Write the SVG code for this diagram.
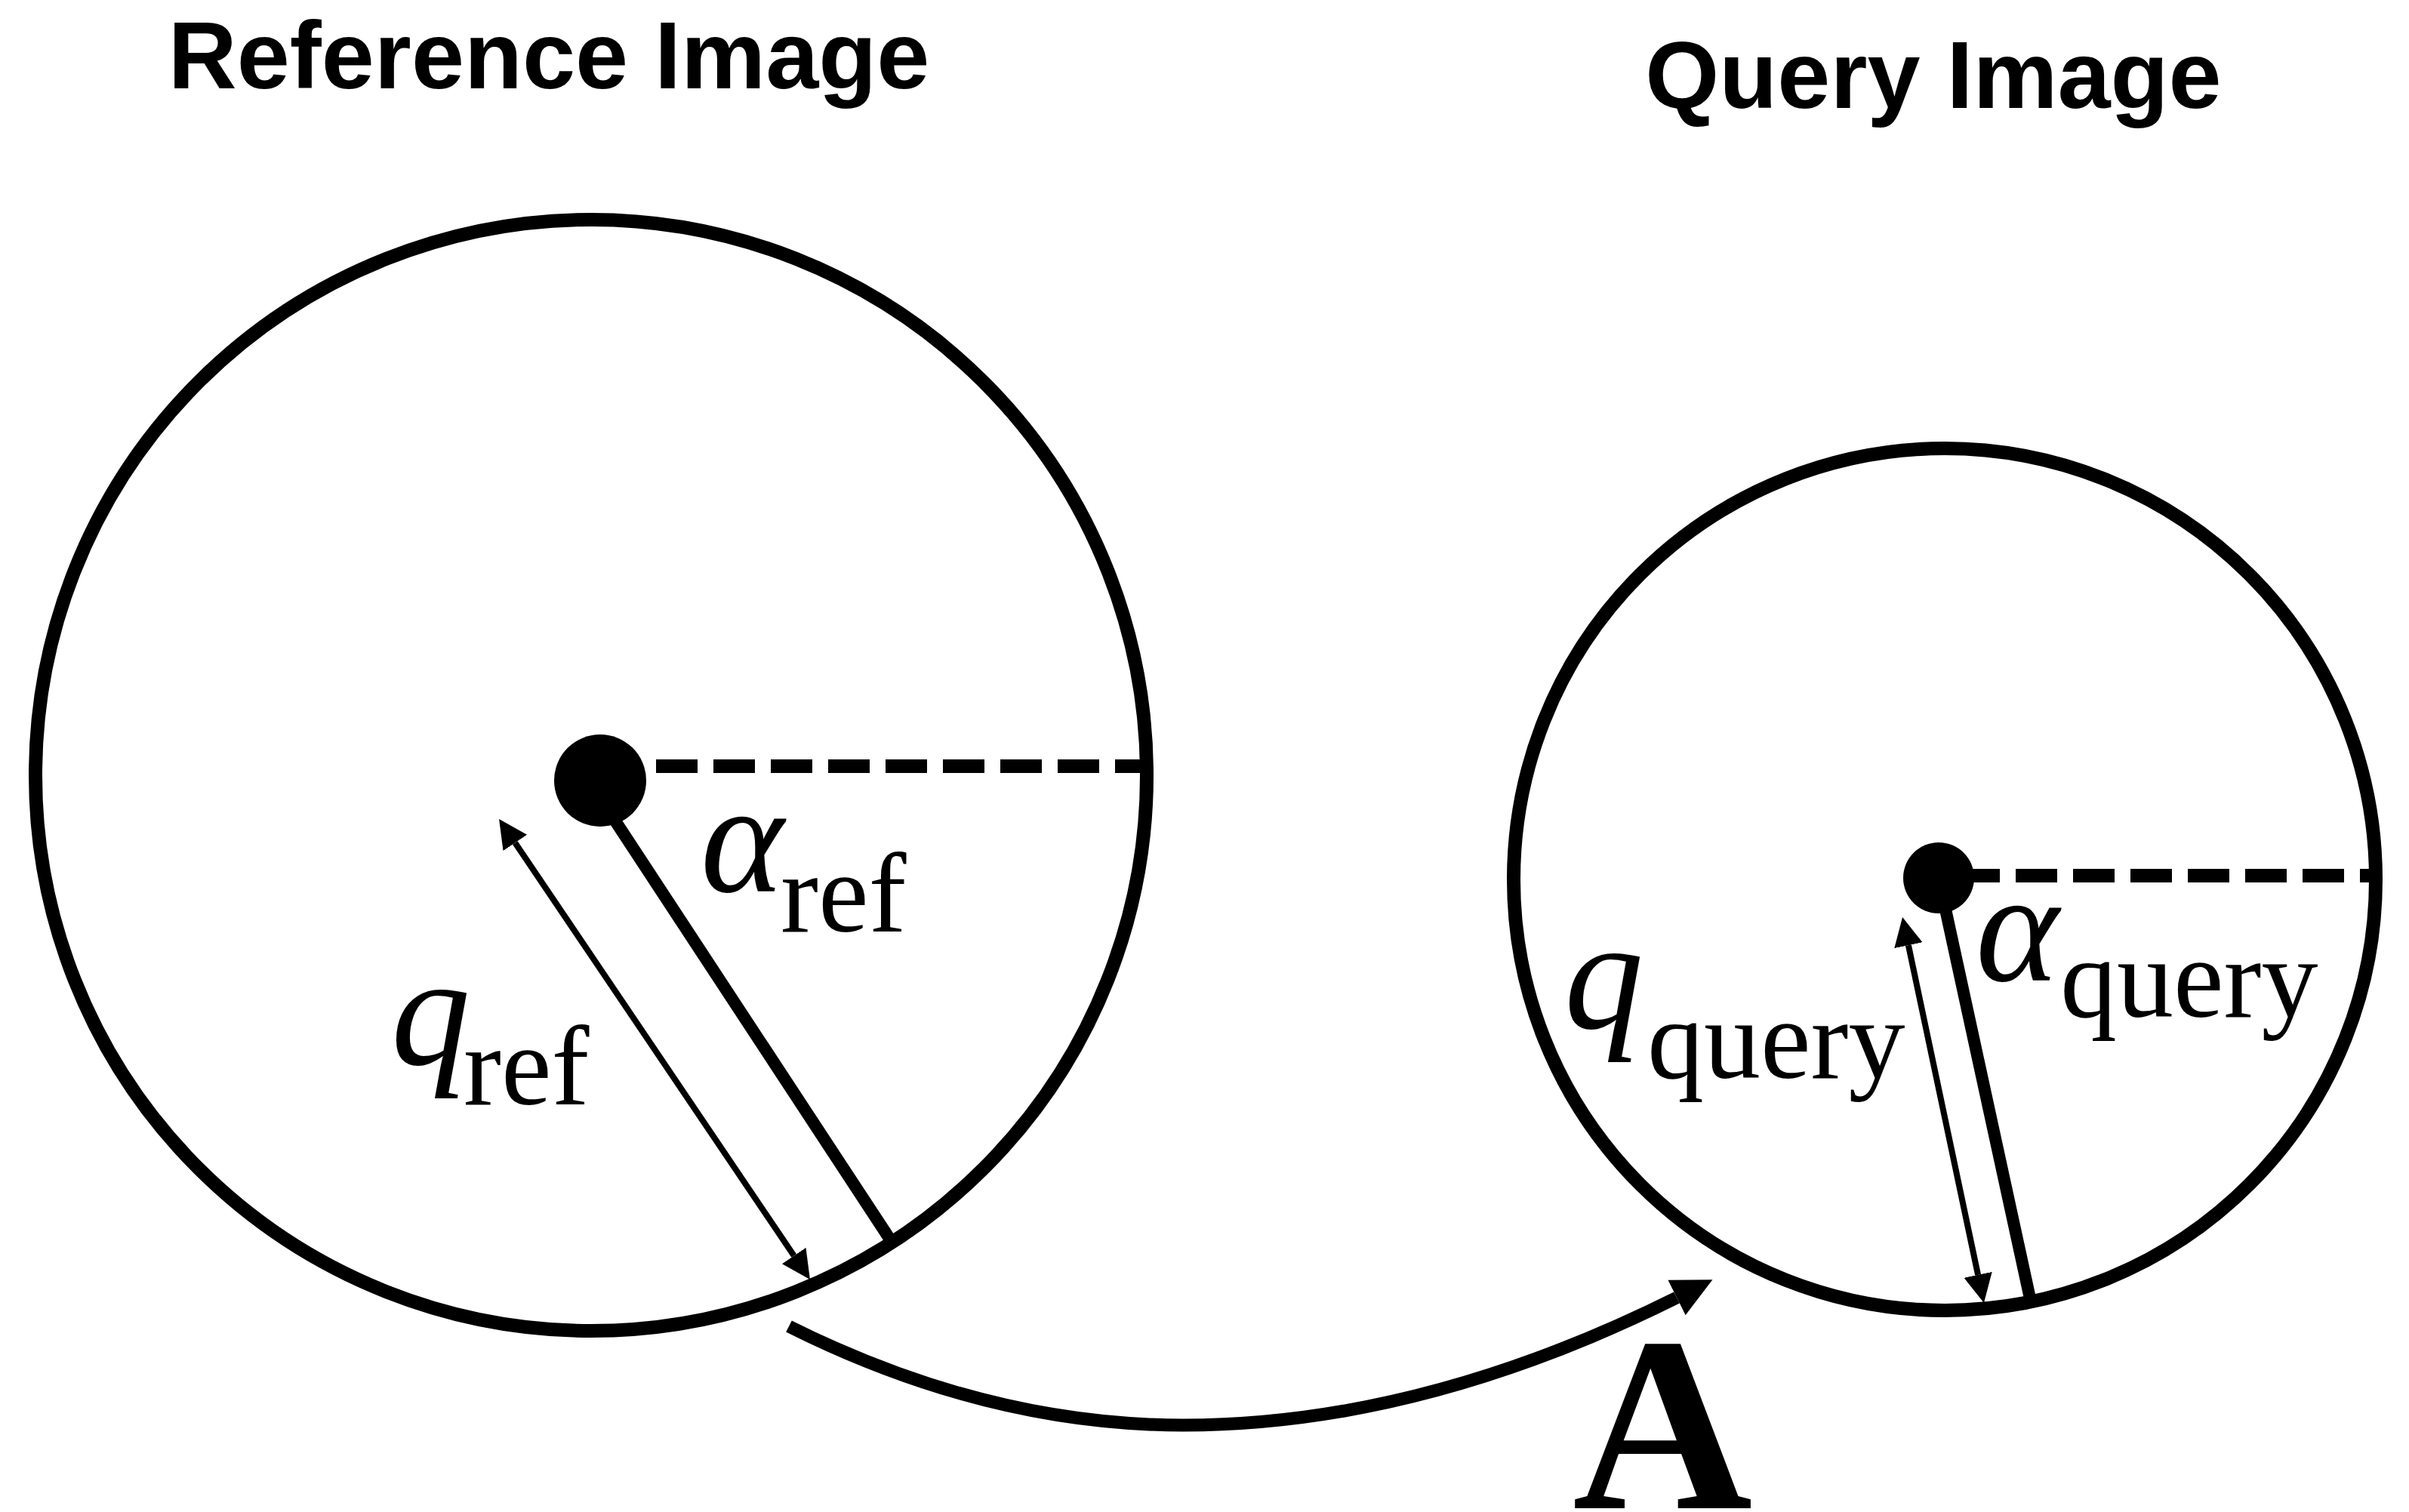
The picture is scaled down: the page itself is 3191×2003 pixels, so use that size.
<svg xmlns="http://www.w3.org/2000/svg" width="3191" height="2003" viewBox="0 0 3191 2003">
  <style>
    .ring { fill: none; stroke: #000; stroke-width: 18; }
    .dash { fill: none; stroke: #000; stroke-width: 18; stroke-dasharray: 55 21; }
    .radius { fill: none; stroke: #000; stroke-width: 16; }
    .thin { fill: none; stroke: #000; stroke-width: 8; }
    .conn { fill: none; stroke: #000; stroke-width: 17; }
    .dot { fill: #000; }
    .title { font-family: "Liberation Sans", Arial, sans-serif; font-weight: bold; font-size: 126px; fill: #000; text-anchor: middle; }
    .sym { font-family: "Liberation Serif", "Times New Roman", serif; font-style: italic; font-size: 210px; fill: #000; }
    .sub { font-family: "Liberation Serif", "Times New Roman", serif; font-size: 150px; fill: #000; }
    .big { font-family: "Liberation Serif", "Times New Roman", serif; font-weight: bold; font-size: 330px; fill: #000; }
  </style>
  <defs>
    <marker id="ah" markerUnits="userSpaceOnUse" viewBox="0 -20 40 40" refX="0" refY="0" markerWidth="40" markerHeight="40" orient="auto-start-reverse">
      <path d="M0,-19 L38,0 L0,19 Z" fill="#000"/>
    </marker>
    <marker id="ahBig" markerUnits="userSpaceOnUse" viewBox="0 -28 56 56" refX="0" refY="0" markerWidth="56" markerHeight="56" orient="auto">
      <path d="M0,-26 L53,0 L0,26 Z" fill="#000"/>
    </marker>
  </defs>
  <rect width="3191" height="2003" fill="#fff"/>

  <g id="reference-image">
    <text class="title" x="727" y="117">Reference Image</text>
    <circle class="ring" cx="783" cy="1027" r="736"/>
    <line class="dash" x1="869" y1="1015" x2="1519" y2="1015"/>
    <line class="radius" x1="810" y1="1080" x2="1183" y2="1648"/>
    <circle class="dot" cx="795" cy="1034" r="61"/>
    <text class="sym" x="928" y="1181">α</text>
    <text class="sub" x="1034" y="1234">ref</text>
    <text class="sym" x="518" y="1410">q</text>
    <text class="sub" x="614" y="1463">ref</text>
  </g>

  <g id="query-image">
    <text class="title" x="2561" y="143">Query Image</text>
    <circle class="ring" cx="2576" cy="1165" r="571"/>
    <line class="dash" x1="2594" y1="1160" x2="3147" y2="1160"/>
    <line class="radius" x1="2568" y1="1163" x2="2691" y2="1729"/>
    <circle class="dot" cx="2568" cy="1163" r="47"/>
    <text class="sym" x="2617" y="1299">α</text>
    <text class="sub" x="2729" y="1347">query</text>
    <text class="sym" x="2072" y="1362">q</text>
    <text class="sub" x="2182" y="1428">query</text>
  </g>

  <g id="connectors">
    <line class="thin" x1="682.3" y1="1116.5" x2="1051.7" y2="1663.5" marker-start="url(#ah)" marker-end="url(#ah)"/>
    <line class="thin" x1="2527.9" y1="1252.2" x2="2620.1" y2="1688.8" marker-start="url(#ah)" marker-end="url(#ah)"/>
    <path class="conn" d="M1045,1757 Q1307,1888 1567,1888 Q1882,1888 2221,1719" marker-end="url(#ahBig)"/>
  </g>

  <g id="transform-label">
    <text class="big" x="2083" y="1998">A</text>
  </g>
</svg>
